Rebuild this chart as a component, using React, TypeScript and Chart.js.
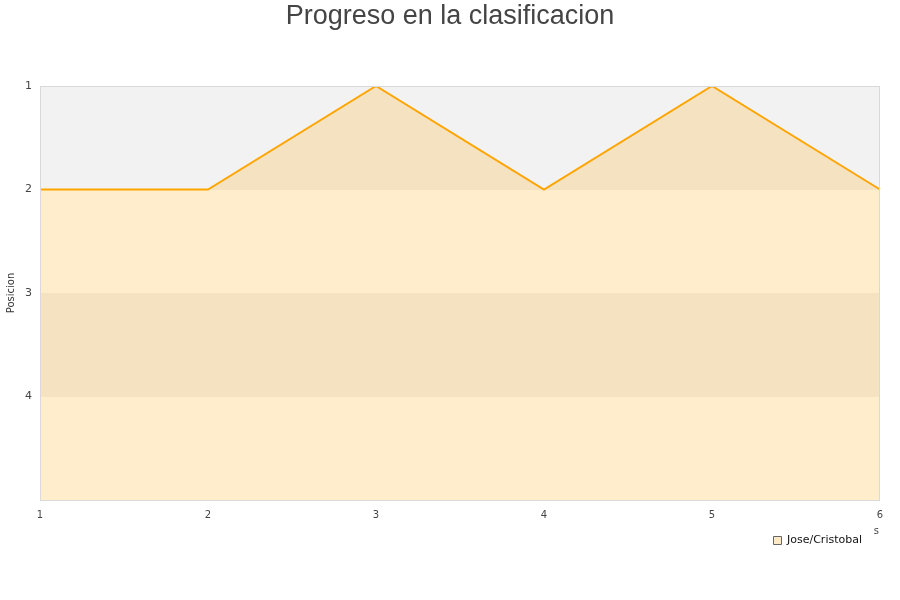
import React, { useEffect, useRef } from "react";
import { Chart, registerables } from "chart.js";

Chart.register(...registerables);

const jornadas = ["1", "2", "3", "4", "5", "6"];
const posiciones = [2, 2, 1, 2, 1, 2];
const equipo = "Jose/Cristobal";
const titulo = "Progreso en la clasificacion";
const ejeY = "Posicion";
const bandasGrises: [number, number][] = [
  [1, 2],
  [3, 4],
];

const relleno = "rgba(255,165,0,0.2)";

// Alternating horizontal bands, a light frame around the plot area, title/legend nudges
const bandPlugin = {
  id: "bands",
  afterLayout(chart: any) {
    if (chart.legend) chart.legend.right -= 5;
    if (chart.titleBlock) {
      chart.titleBlock.right += 20;
      chart.titleBlock.width += 20;
    }
  },
  beforeDatasetsDraw(chart: any) {
    const { ctx, chartArea, scales } = chart;
    const y = scales.y;
    ctx.save();
    ctx.fillStyle = "#f2f2f2";
    for (const [a, b] of bandasGrises) {
      const y1 = y.getPixelForValue(a);
      const y2 = y.getPixelForValue(b);
      ctx.fillRect(chartArea.left, Math.min(y1, y2), chartArea.right - chartArea.left, Math.abs(y2 - y1));
    }
    ctx.restore();
  },
  afterDraw(chart: any) {
    const { ctx, chartArea } = chart;
    ctx.save();
    ctx.strokeStyle = "#d9d9d9";
    ctx.lineWidth = 1;
    ctx.strokeRect(chartArea.left + 0.5, chartArea.top + 0.5, chartArea.right - chartArea.left - 1, chartArea.bottom - chartArea.top);
    ctx.fillStyle = "#444";
    ctx.font = "10px 'DejaVu Sans'";
    ctx.textAlign = "right";
    ctx.textBaseline = "middle";
    ctx.fillText("s", chartArea.right - 1, chartArea.bottom + 31);
    ctx.restore();
  },
};

export default function App() {
  const ref = useRef<HTMLCanvasElement>(null);
  useEffect(() => {
    if (!ref.current) return;
    const chart = new Chart(ref.current, {
      type: "line",
      data: {
        labels: jornadas,
        datasets: [
          {
            label: equipo,
            data: posiciones,
            borderColor: "#ffa500",
            backgroundColor: relleno,
            borderWidth: 2,
            pointRadius: 0,
            tension: 0,
            fill: { value: 5 },
          },
        ],
      },
      options: {
        animation: false,
        responsive: false,
        maintainAspectRatio: false,
        layout: { padding: { left: 0, right: 20, top: 0, bottom: 44 } },
        plugins: {
          title: {
            display: true,
            text: titulo,
            color: "#444",
            font: { family: "'Liberation Sans', Arial, sans-serif", size: 27, weight: "normal" },
            padding: { top: 0, bottom: 53.6 },
          },
          legend: {
            position: "bottom",
            align: "end",
            labels: {
              boxWidth: 8,
              boxHeight: 8,
              color: "#111",
              font: { family: "'DejaVu Sans', sans-serif", size: 11 },
              padding: 13,
              generateLabels: (c: any) =>
                c.data.datasets.map((d: any, i: number) => ({
                  text: d.label,
                  fillStyle: "#ffe8c4",
                  strokeStyle: "#666",
                  lineWidth: 1,
                  hidden: false,
                  datasetIndex: i,
                  fontColor: "#111",
                })),
            },
          },
          tooltip: { enabled: false },
        },
        scales: {
          x: {
            type: "category",
            offset: false,
            grid: { display: false },
            border: { display: false },
            ticks: {
              color: "#444",
              font: { family: "'DejaVu Sans', sans-serif", size: 10 },
              padding: 1,
              maxRotation: 0,
            },
          },
          y: {
            reverse: true,
            min: 1,
            max: 5,
            grid: { color: "rgba(0,0,0,0.05)", drawTicks: false },
            border: { display: false },
            ticks: {
              stepSize: 1,
              color: "#444",
              font: { family: "'DejaVu Sans', sans-serif", size: 11 },
              padding: 8,
              callback: (v: any) => (v === 5 ? "" : String(v)),
            },
            title: {
              display: true,
              text: ejeY,
              color: "#333",
              font: { family: "'DejaVu Sans', sans-serif", size: 10 },
              padding: { top: 5, bottom: 0 },
            },
            afterFit(scale: any) {
              scale.width = 40;
            },
          },
        },
      },
      plugins: [bandPlugin],
    });
    return () => chart.destroy();
  }, []);
  return (
    <div style={{ position: "absolute", left: 0, top: 0, width: 900, height: 600, background: "#fff" }}>
      <canvas ref={ref} width={900} height={600} />
    </div>
  );
}
